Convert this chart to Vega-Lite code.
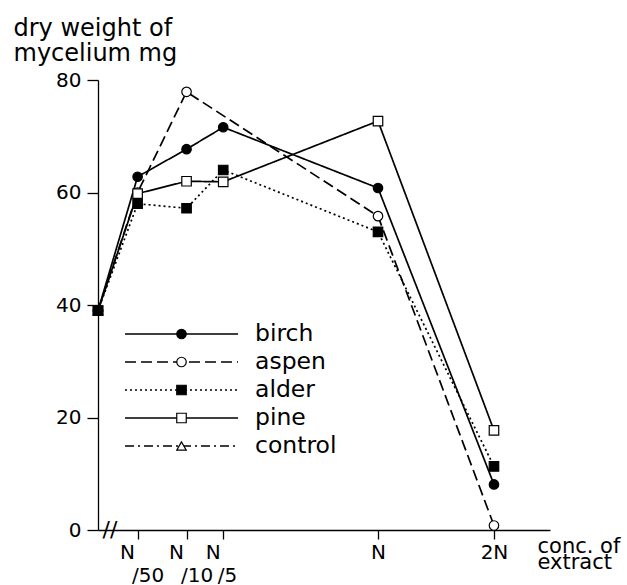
{
  "$schema": "https://vega.github.io/schema/vega-lite/v6.json",
  "width": 452,
  "height": 450,
  "autosize": {"type": "none"},
  "padding": {"left": 98, "top": 80, "right": 77, "bottom": 55},
  "background": "white",
  "config": {
    "view": {"stroke": null},
    "font": "DejaVu Sans",
    "axis": {
      "grid": false,
      "domainColor": "black",
      "domainWidth": 1.3,
      "tickColor": "black",
      "tickWidth": 1.3,
      "labelColor": "black",
      "titleColor": "black",
      "labelFont": "DejaVu Sans",
      "titleFont": "DejaVu Sans",
      "titleFontWeight": "normal"
    }
  },
  "resolve": {"axis": {"x": "independent"}},
  "data": {
    "values": [
      {"series": "control", "conc": 0, "weight": 39},
      {"series": "birch", "conc": 0, "weight": 39},
      {"series": "birch", "conc": 0.02, "weight": 62.8},
      {"series": "birch", "conc": 0.1, "weight": 67.7},
      {"series": "birch", "conc": 0.2, "weight": 71.6},
      {"series": "birch", "conc": 1, "weight": 60.8},
      {"series": "birch", "conc": 2, "weight": 8.1},
      {"series": "aspen", "conc": 0, "weight": 39},
      {"series": "aspen", "conc": 0.02, "weight": 60},
      {"series": "aspen", "conc": 0.1, "weight": 77.9},
      {"series": "aspen", "conc": 1, "weight": 55.8},
      {"series": "aspen", "conc": 2, "weight": 0.8},
      {"series": "pine", "conc": 0, "weight": 39},
      {"series": "pine", "conc": 0.02, "weight": 59.8},
      {"series": "pine", "conc": 0.1, "weight": 62},
      {"series": "pine", "conc": 0.2, "weight": 61.9},
      {"series": "pine", "conc": 1, "weight": 72.7},
      {"series": "pine", "conc": 2, "weight": 17.7},
      {"series": "alder", "conc": 0, "weight": 39},
      {"series": "alder", "conc": 0.02, "weight": 58},
      {"series": "alder", "conc": 0.1, "weight": 57.2},
      {"series": "alder", "conc": 0.2, "weight": 64},
      {"series": "alder", "conc": 1, "weight": 53},
      {"series": "alder", "conc": 2, "weight": 11.3}
    ]
  },
  "layer": [
    {
      "mark": {"type": "line", "color": "black", "strokeWidth": 1.7, "strokeCap": "butt"},
      "encoding": {
        "x": {
          "field": "conc",
          "type": "quantitative",
          "scale": {"type": "sqrt", "domain": [0, 2.606], "nice": false},
          "axis": {
            "orient": "bottom",
            "values": [0.02, 0.1, 0.2, 1, 2],
            "tickSize": 9,
            "labelFontSize": 20,
            "labelPadding": 3,
            "labelOverlap": false,
            "labelFlush": false,
            "labelBound": false,
            "labelBaseline": "top",
            "labelAlign": {"condition": {"test": "datum.value < 0.5", "value": "left"}, "value": "center"},
            "labelOffset": {"condition": {"test": "datum.value < 0.5", "value": -18}, "value": 0},
            "labelExpr": "datum.value == 2 ? '2N' : 'N'",
            "title": ["conc. of", "extract"],
            "titleFontSize": 21,
            "titleLineHeight": 16,
            "titleAlign": "left",
            "titleBaseline": "alphabetic",
            "titleAnchor": "start",
            "titleX": 439,
            "titleY": 22
          }
        },
        "y": {
          "field": "weight",
          "type": "quantitative",
          "scale": {"domain": [0, 80], "nice": false},
          "axis": {
            "values": [0, 20, 40, 60, 80],
            "tickSize": 11,
            "labelFontSize": 20,
            "labelPadding": 6,
            "title": ["dry weight of", "mycelium mg"],
            "titleAngle": 0,
            "titleFontSize": 24,
            "titleLineHeight": 25,
            "titleAlign": "left",
            "titleBaseline": "alphabetic",
            "titleAnchor": "start",
            "titleX": -85,
            "titleY": -45
          }
        },
        "strokeDash": {
          "field": "series",
          "type": "nominal",
          "sort": ["birch", "aspen", "alder", "pine", "control"],
          "scale": {
            "range": [[1, 0], [11, 5], [2, 3], [1, 0], [9, 4, 2, 4]]
          },
          "legend": {
            "orient": "none",
            "legendX": 26,
            "legendY": 240,
            "title": null,
            "symbolType": "stroke",
            "symbolSize": 12769,
            "symbolStrokeColor": "black",
            "symbolStrokeWidth": 1.7,
            "labelFont": "DejaVu Sans",
            "labelFontSize": 23.5,
            "labelColor": "black",
            "labelOffset": 16,
            "labelLimit": 200,
            "clipHeight": 28,
            "rowPadding": 0,
            "padding": 0,
            "zindex": 0
          }
        }
      }
    },
    {
      "mark": {"type": "point", "filled": true, "strokeWidth": 1.2, "size": 90, "opacity": 1},
      "encoding": {
        "x": {
          "field": "conc",
          "type": "quantitative",
          "axis": {
            "orient": "bottom",
            "values": [0.02, 0.1, 0.2],
            "domain": false,
            "ticks": false,
            "tickSize": 0,
            "labelFontSize": 20,
            "labelPadding": 35,
            "labelOverlap": false,
            "labelFlush": false,
            "labelBound": false,
            "labelBaseline": "top",
            "labelAlign": "left",
            "labelOffset": -6,
            "labelExpr": "datum.value == 0.02 ? '/50' : datum.value == 0.1 ? '/10' : '/5'",
            "title": null
          }
        },
        "y": {"field": "weight", "type": "quantitative"},
        "shape": {
          "field": "series",
          "type": "nominal",
          "scale": {
            "domain": ["birch", "aspen", "alder", "pine", "control"],
            "range": ["circle", "circle", "square", "square", "triangle-up"]
          },
          "legend": {
            "orient": "none",
            "legendX": 78,
            "legendY": 240,
            "title": null,
            "symbolSize": 90,
            "symbolStrokeWidth": 1.2,
            "labelExpr": "''",
            "labelFontSize": 1,
            "clipHeight": 28,
            "rowPadding": 0,
            "padding": 0,
            "zindex": 1
          }
        },
        "fill": {
          "field": "series",
          "type": "nominal",
          "scale": {
            "domain": ["birch", "aspen", "alder", "pine", "control"],
            "range": ["black", "white", "black", "white", "white"]
          },
          "legend": {
            "orient": "none",
            "legendX": 78,
            "legendY": 240,
            "title": null,
            "symbolSize": 90,
            "symbolStrokeWidth": 1.2,
            "labelExpr": "''",
            "labelFontSize": 1,
            "clipHeight": 28,
            "rowPadding": 0,
            "padding": 0,
            "zindex": 1
          }
        },
        "stroke": {
          "field": "series",
          "type": "nominal",
          "scale": {
            "domain": ["birch", "aspen", "alder", "pine", "control"],
            "range": ["black", "black", "black", "black", "black"]
          },
          "legend": {
            "orient": "none",
            "legendX": 78,
            "legendY": 240,
            "title": null,
            "symbolSize": 90,
            "symbolStrokeWidth": 1.2,
            "labelExpr": "''",
            "labelFontSize": 1,
            "clipHeight": 28,
            "rowPadding": 0,
            "padding": 0,
            "zindex": 1
          }
        }
      }
    },
    {
      "data": {"values": [{}]},
      "mark": {"type": "text", "text": "//", "fontSize": 22, "align": "center", "baseline": "middle", "color": "black"},
      "encoding": {
        "x": {"datum": 0.0018, "type": "quantitative", "axis": null},
        "y": {"datum": 0, "type": "quantitative"}
      }
    }
  ]
}
